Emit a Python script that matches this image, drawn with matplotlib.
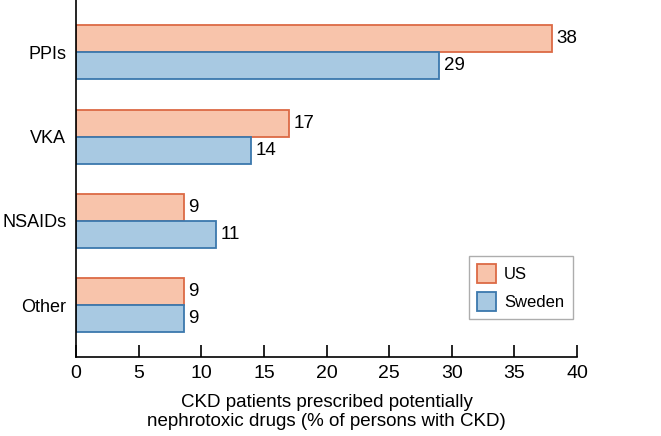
import numpy as np
import matplotlib
matplotlib.use('Agg')
from matplotlib import pyplot as plt

categories = ["PPIs", "VKA", "NSAIDs", "Other"]
us_values = [38.0, 17.0, 8.6, 8.6]
sweden_values = [29.0, 14.0, 11.2, 8.6]
us_labels = ["38", "17", "9", "9"]
sweden_labels = ["29", "14", "11", "9"]

plt.rcParams['font.family'] = ['Liberation Sans', 'DejaVu Sans']

fig = plt.figure(figsize=(6.61, 4.36), dpi=100)
ax = fig.add_axes([0.115, 0.182, 0.758, 0.818])

y = np.arange(len(categories))[::-1]
h = 0.32

us_bars = ax.barh(y + h / 2, us_values, height=h, color="#f8c4ab",
                  edgecolor="#dc6a45", linewidth=1.3, label="US")
se_bars = ax.barh(y - h / 2, sweden_values, height=h, color="#a8c9e2",
                  edgecolor="#3b78ad", linewidth=1.3, label="Sweden")

for bar, txt in zip(us_bars, us_labels):
    ax.text(bar.get_width() + 0.35, bar.get_y() + bar.get_height() / 2, txt,
            va="center", ha="left", fontsize=13.5)
for bar, txt in zip(se_bars, sweden_labels):
    ax.text(bar.get_width() + 0.35, bar.get_y() + bar.get_height() / 2, txt,
            va="center", ha="left", fontsize=13.5)

ax.set_xlim(0, 40)
ax.set_ylim(-0.61, 3.62)
ax.set_xticks(np.arange(0, 41, 5))
ax.set_yticks(y)
ax.set_yticklabels(categories, fontsize=13)
ax.tick_params(axis="x", direction="in", length=8.5, width=1.2, labelsize=14, pad=6)
ax.tick_params(axis="y", length=0, pad=7)

for side in ["top", "right"]:
    ax.spines[side].set_visible(False)
for side in ["left", "bottom"]:
    ax.spines[side].set_linewidth(1.2)

ax.set_xlabel("CKD patients prescribed potentially\nnephrotoxic drugs (% of persons with CKD)",
              fontsize=13.5, labelpad=9, linespacing=1.1)

leg = ax.legend(loc="lower right", bbox_to_anchor=(0.991, 0.105), fontsize=12,
                fancybox=False, edgecolor="#999999", handlelength=1.1,
                handleheight=1.35, borderpad=0.5, labelspacing=0.55,
                handletextpad=0.5, borderaxespad=0)
leg.get_frame().set_linewidth(1.0)

plt.savefig("out.png", dpi=100)
plt.close()
